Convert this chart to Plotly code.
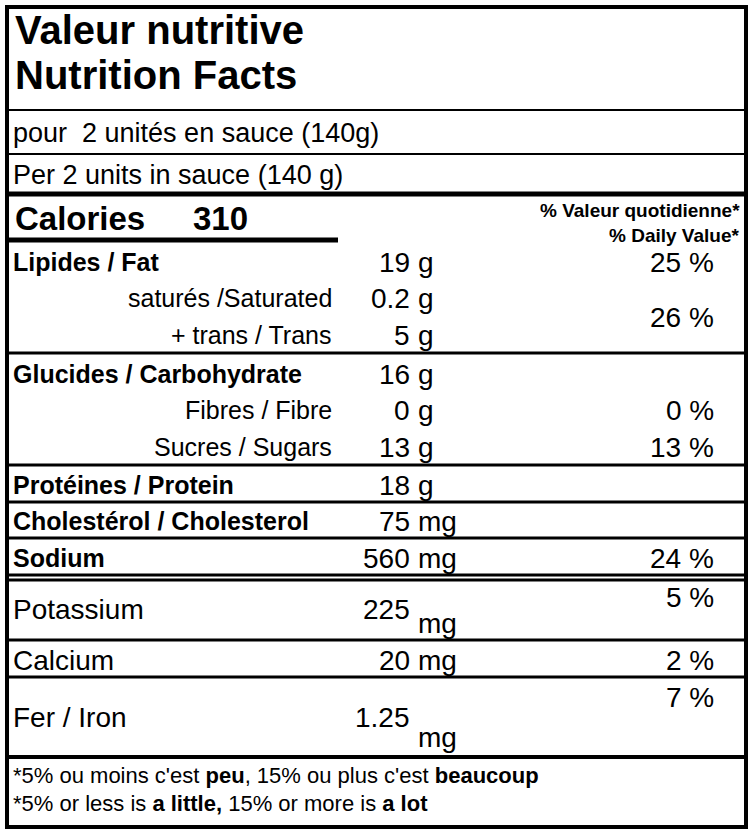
import plotly.graph_objects as go

title_fr = "Valeur nutritive"
title_en = "Nutrition Facts"
serving_fr = "pour  2 unités en sauce (140g)"
serving_en = "Per 2 units in sauce (140 g)"
calories = 310
dv_head = ["% Valeur quotidienne*", "% Daily Value*"]

labels = ["Lipides / Fat", "saturés /Saturated", "+ trans / Trans", "Glucides / Carbohydrate",
          "Fibres / Fibre", "Sucres / Sugars", "Protéines / Protein", "Cholestérol / Cholesterol",
          "Sodium", "Potassium", "Calcium", "Fer / Iron"]
amounts = ["19", "0.2", "5", "16", "0", "13", "18", "75", "560", "225", "20", "1.25"]
units = ["g", "g", "g", "g", "g", "g", "g", "mg", "mg", "mg", "mg", "mg"]
dvs = ["25 %", "", "", "", "0 %", "13 %", "", "", "24 %", "5 %", "2 %", "7 %"]
dv_sat_trans = "26 %"
foot = ["*5% ou moins c'est <b>peu</b>, 15% ou plus c'est <b>beaucoup</b>",
        "*5% or less is <b>a little,</b> 15% or more is <b>a lot</b>"]

# layout (pixel positions)
row_y = [262, 298, 335, 374, 410, 447, 485, 521, 558, 609, 660, 717]
unit_y = [262, 298, 335, 374, 410, 447, 485, 521, 558, 623, 660, 737]
dv_y = [262, 0, 0, 0, 410, 447, 0, 0, 558, 597, 660, 697]
style = ["bold", "indent", "indent", "bold", "indent", "indent", "bold", "bold", "bold",
         "plain", "plain", "plain"]
F = "Liberation Sans, Arial, sans-serif"

fig = go.Figure()
ann = []
def T(x, y, t, size, anchor="left", bold=False, yanchor="middle"):
    ann.append(dict(x=x, y=y, text=f"<b>{t}</b>" if bold else t, showarrow=False,
                    xanchor=anchor, yanchor=yanchor, xshift=(-2 if anchor == "left" else 2),
                    font=dict(family=F, size=size, color="black")))

T(15, 30, title_fr, 40, bold=True)
T(15, 75, title_en, 40, bold=True)
T(13, 133, serving_fr, 27)
T(13, 175, serving_en, 27)
T(15, 218, "Calories", 33, bold=True)
T(193, 218, str(calories), 33, bold=True)
T(740, 210, dv_head[0], 19, "right", True)
T(740, 235, dv_head[1], 19, "right", True)
for i, lab in enumerate(labels):
    if style[i] == "bold":
        T(13, row_y[i], lab, 25, bold=True)
    elif style[i] == "indent":
        T(332, row_y[i], lab, 25, "right")
    else:
        T(13, row_y[i], lab, 28)
    T(410, row_y[i], amounts[i], 28, "right")
    T(418, unit_y[i], units[i], 28)
    if dvs[i]:
        T(714, dv_y[i], dvs[i], 28, "right")
T(714, 317, dv_sat_trans, 28, "right")
T(13, 775, foot[0], 22)
T(13, 803, foot[1], 22)

shapes = [dict(type="rect", x0=7, y0=7, x1=746, y1=827, line=dict(color="black", width=4))]
def L(y, w, x0=7, x1=746):
    shapes.append(dict(type="line", x0=x0, x1=x1, y0=y, y1=y, line=dict(color="black", width=w)))
L(110, 2); L(154, 2); L(194, 5); L(240, 5, 9, 338)
L(353, 3); L(465, 3); L(502, 3); L(538, 3); L(575, 3); L(580, 3)
L(640, 3); L(677, 3); L(757, 4)

fig.update_layout(width=753, height=834, margin=dict(l=0, r=0, t=0, b=0),
                  paper_bgcolor="white", plot_bgcolor="white",
                  xaxis=dict(range=[0, 753], visible=False, fixedrange=True),
                  yaxis=dict(range=[834, 0], visible=False, fixedrange=True),
                  annotations=ann, shapes=shapes, showlegend=False)
fig.write_html("out.html", config={"displayModeBar": False},
               post_script="document.body.style.margin='0';document.body.style.overflow='hidden';")
